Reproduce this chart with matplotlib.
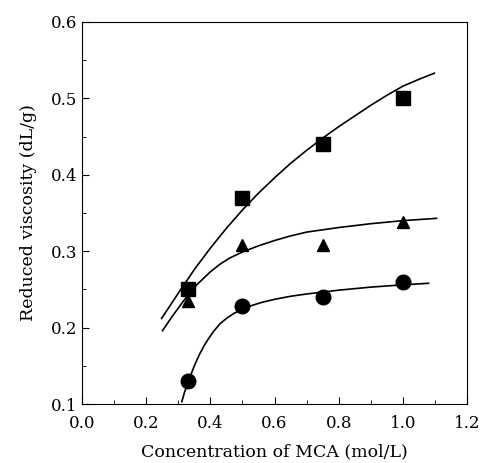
import matplotlib
matplotlib.use('Agg')
import matplotlib.pyplot as plt
from matplotlib.ticker import MultipleLocator

# measured points
conc = [0.33, 0.50, 0.75, 1.00]
visc_square = [0.250, 0.370, 0.440, 0.500]
visc_triangle = [0.235, 0.308, 0.308, 0.338]
visc_circle = [0.130, 0.228, 0.240, 0.260]

# hand-drawn trend curves
curve_sq_x = [0.248, 0.30, 0.35, 0.40, 0.45, 0.50, 0.55, 0.60, 0.65, 0.70, 0.75, 0.80, 0.85, 0.90, 0.95, 1.00, 1.05, 1.098]
curve_sq_y = [0.212, 0.245, 0.276, 0.304, 0.330, 0.354, 0.376, 0.396, 0.415, 0.432, 0.448, 0.463, 0.477, 0.491, 0.504, 0.516, 0.525, 0.533]
curve_tr_x = [0.251, 0.28, 0.32, 0.36, 0.40, 0.43, 0.46, 0.50, 0.55, 0.60, 0.65, 0.70, 0.80, 0.90, 1.00, 1.105]
curve_tr_y = [0.196, 0.214, 0.237, 0.257, 0.273, 0.283, 0.291, 0.299, 0.307, 0.314, 0.320, 0.325, 0.331, 0.336, 0.340, 0.343]
curve_ci_x = [0.311, 0.32, 0.33, 0.34, 0.35, 0.365, 0.38, 0.395, 0.41, 0.43, 0.45, 0.475, 0.50, 0.53, 0.56, 0.60, 0.65, 0.70, 0.80, 0.90, 1.00, 1.08]
curve_ci_y = [0.103, 0.116, 0.128, 0.139, 0.150, 0.164, 0.176, 0.186, 0.195, 0.205, 0.212, 0.219, 0.224, 0.229, 0.233, 0.237, 0.241, 0.244, 0.249, 0.253, 0.256, 0.258]

plt.rcParams['font.family'] = ['DejaVu Serif']

fig = plt.figure(figsize=(4.81, 4.63), dpi=100)
ax = fig.add_axes([0.1705, 0.1274, 0.8005, 0.8251])

ax.plot(curve_sq_x, curve_sq_y, color='black', lw=1.2)
ax.plot(curve_tr_x, curve_tr_y, color='black', lw=1.2)
ax.plot(curve_ci_x, curve_ci_y, color='black', lw=1.2)

ax.plot(conc, visc_square, 's', color='black', ms=9.5, linestyle='none')
ax.plot(conc, visc_triangle, '^', color='black', ms=9, linestyle='none')
ax.plot(conc, visc_circle, 'o', color='black', ms=10.5, linestyle='none')

ax.set_xlim(0.0, 1.2)
ax.set_ylim(0.1, 0.6)
ax.xaxis.set_major_locator(MultipleLocator(0.2))
ax.xaxis.set_minor_locator(MultipleLocator(0.1))
ax.yaxis.set_major_locator(MultipleLocator(0.1))
ax.yaxis.set_minor_locator(MultipleLocator(0.05))
ax.xaxis.set_major_formatter(plt.FormatStrFormatter('%.1f'))
ax.yaxis.set_major_formatter(plt.FormatStrFormatter('%.1f'))
ax.tick_params(which='both', direction='in', top=False, right=False, labelsize=12)
ax.tick_params(which='major', length=5)
ax.tick_params(which='minor', length=3)
ax.tick_params(axis='x', pad=8)

ax.set_xlabel('Concentration of MCA (mol/L)', fontsize=12.5, labelpad=8)
ax.set_ylabel('Reduced viscosity (dL/g)', fontsize=12.5, labelpad=10)

fig.savefig('out.png', dpi=100)
